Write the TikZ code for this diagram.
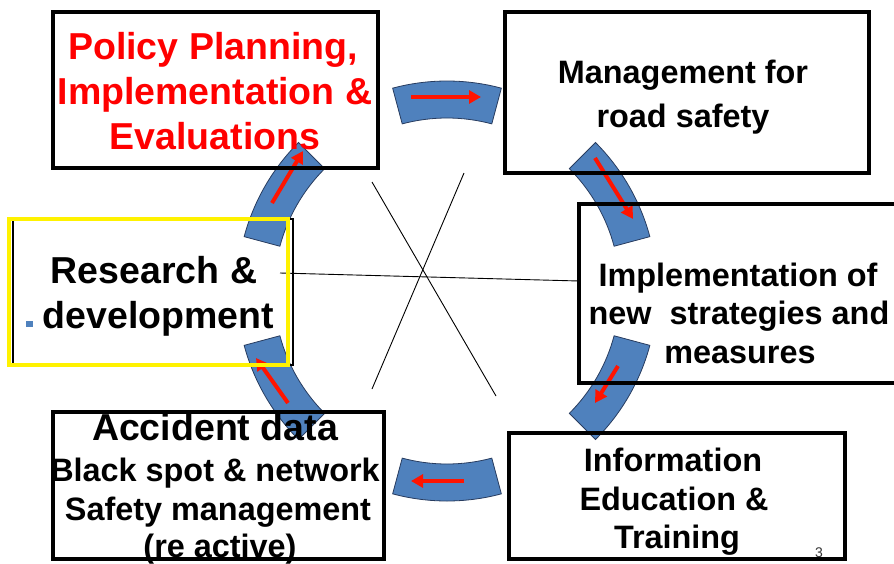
\documentclass[tikz,border=0pt]{standalone}
\usepackage{fontspec}
\setmainfont{Liberation Sans}
\usepackage{xcolor}
\usepackage{tikz}
\usetikzlibrary{arrows.meta}

\definecolor{segblue}{RGB}{79,129,189}
\definecolor{segline}{RGB}{40,60,95}
\definecolor{flowred}{RGB}{255,20,0}

\begin{document}
\begin{tikzpicture}[x=1pt, y=-1pt,
    box/.style={draw=black, line width=3.5pt},
    ringseg/.style={fill=segblue, draw=segline, line width=0.8pt},
    flow/.style={draw=flowred, line width=4pt, -{Triangle[length=12pt,width=13pt]}},
    thinline/.style={draw=black, line width=0.9pt},
    bigtxt/.style={anchor=base, inner sep=0pt, font=\fontsize{37.5}{45}\selectfont\bfseries},
    midtxt/.style={anchor=base, inner sep=0pt, font=\fontsize{32.4}{39}\selectfont\bfseries}]

\useasboundingbox (0,0) rectangle (894,563);

% Cycle ring segments
\foreach \a in {-90,-30,30,90,150,210} {
    \draw[ringseg, shift={(447,291)}] (\a-15:210) arc[start angle=\a-15, end angle=\a+15, radius=210]
        -- (\a+15:173) arc[start angle=\a+15, end angle=\a-15, radius=173] -- cycle;
}

% Red arrows (clockwise)
\foreach \fx/\fy/\tx/\ty in {
    411/97/481/97,
    595/158/633/219,
    618/366/595/403,
    464/481/411/481,
    288/403/256/358,
    272/203/303/151
} {
    \draw[flow] (\fx,\fy) -- (\tx,\ty);
}

% Crossing lines in the middle
\coordinate (xa) at (372,182);
\coordinate (xb) at (496,396);
\coordinate (xc) at (464,173);
\coordinate (xd) at (372,389);
\coordinate (ha) at (280,273);
\coordinate (hb) at (579,281);
\draw[thinline] (xa) -- (xb);
\draw[thinline] (xc) -- (xd);
\draw[thinline] (ha) -- (hb);

% Policy box
\draw[box] (53,12) rectangle (378,168);
\node[bigtxt, text=red] (pol1) at (213,59) {Policy Planning,};
\node[bigtxt, text=red] (pol2) at (215,104) {Implementation \&};
\node[bigtxt, text=red] (pol3) at (215,149) {Evaluations};

% Management box
\draw[box] (505,12) rectangle (869,173);
\node[midtxt] (man1) at (683,83) {Management for};
\node[midtxt] (man2) at (683,127) {road safety};

% Implementation box
\draw[box] (579,204) rectangle (910,383);
\node[midtxt] (imp1) at (738,286) {Implementation of};
\node[midtxt] (imp2) at (739,324.5) {new\ \ strategies and};
\node[midtxt] (imp3) at (740,363) {measures};

% Information box
\draw[box] (509,433) rectangle (845,559);
\node[midtxt] (inf1) at (673,471) {Information};
\node[midtxt] (inf2) at (674,510) {Education \&};
\node[midtxt] (inf3) at (677,548) {Training};

% Accident data box
\draw[box] (53,412) rectangle (384,559);
\node[bigtxt] (acc1) at (215,440) {Accident data};
\node[midtxt] (acc2) at (215,481) {Black spot \& network};
\node[midtxt] (acc3) at (218,520) {Safety management};
\node[midtxt] (acc4) at (220,557) {(re active)};

% Research box
\draw[line width=2pt] (13,219) rectangle (293,365);
\draw[draw=yellow, line width=4pt] (9,219) rectangle (288,365);
\fill[segblue] (26,321) rectangle (33,327);
\node[bigtxt] (res1) at (154,283) {Research \&};
\node[bigtxt] (res2) at (158.5,328) {development};

% Slide number
\node[anchor=base, inner sep=0pt, font=\fontsize{14}{16}\selectfont, text=black!80] (pgno) at (819,557) {3};

\end{tikzpicture}
\end{document}
